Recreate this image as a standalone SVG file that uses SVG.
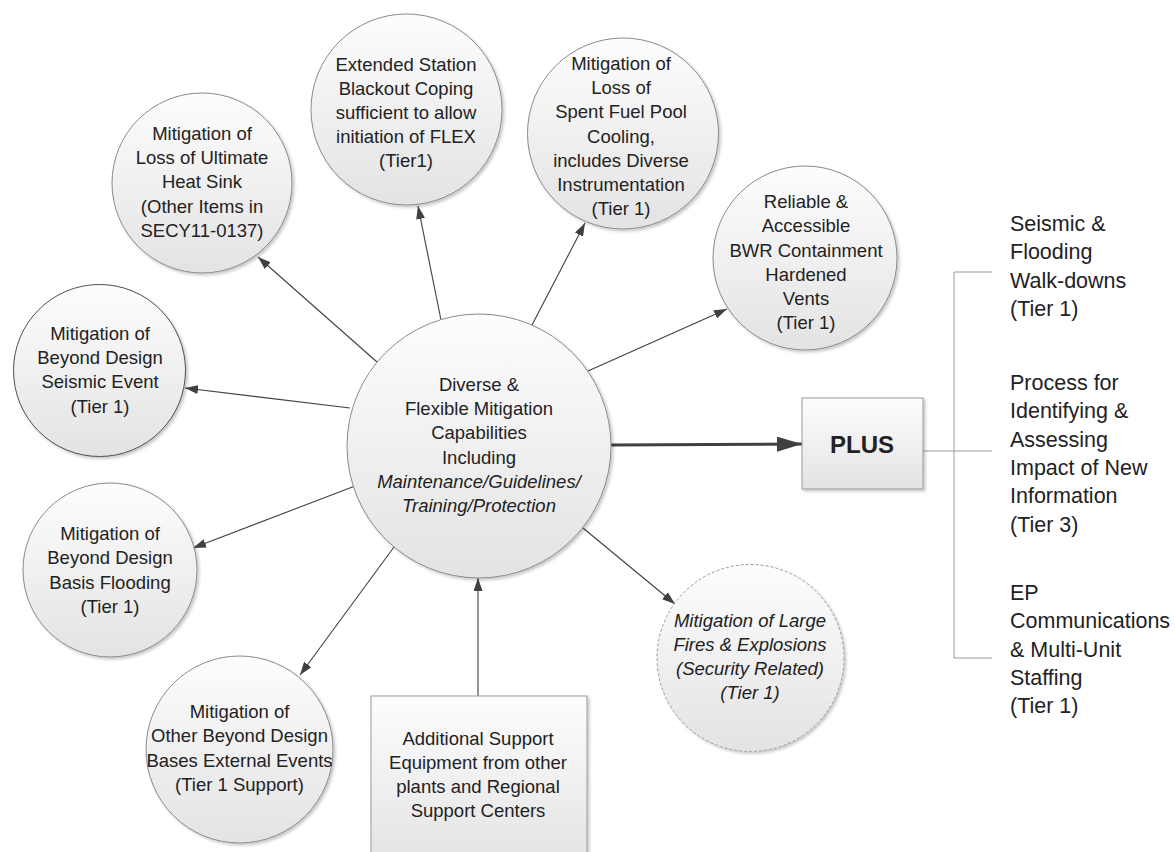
<svg xmlns="http://www.w3.org/2000/svg" width="1175" height="852" viewBox="0 0 1175 852">
<defs>
<linearGradient id="g" x1="0" y1="0" x2="0" y2="1">
<stop offset="0" stop-color="#fdfdfd"/>
<stop offset="1" stop-color="#e3e3e3"/>
</linearGradient>
<filter id="sh" x="-10%" y="-10%" width="125%" height="125%">
<feDropShadow dx="2" dy="2" stdDeviation="1.5" flood-color="#000" flood-opacity="0.22"/>
</filter>
<marker id="ah" markerUnits="userSpaceOnUse" markerWidth="13" markerHeight="9" refX="13" refY="4.5" orient="auto">
<path d="M0,0 L13,4.5 L0,9 z" fill="#404040"/>
</marker>
<marker id="ahb" markerUnits="userSpaceOnUse" markerWidth="25" markerHeight="15" refX="25" refY="7.5" orient="auto">
<path d="M0,0 L25,7.5 L0,15 z" fill="#404040"/>
</marker>
</defs>
<style>
.n{fill:url(#g);stroke:#8a8a8a;stroke-width:1;filter:url(#sh)}
.t{font-family:"Liberation Sans",Arial,sans-serif;font-size:18.5px;fill:#222;text-anchor:middle}
.i{font-style:italic}
.r{font-family:"Liberation Sans",Arial,sans-serif;font-size:21.5px;fill:#222}
.c{stroke:#404040;stroke-width:1.1;fill:none;marker-end:url(#ah)}
.b{stroke:#999;stroke-width:1;fill:none}
</style>
<rect width="1175" height="852" fill="#fff"/>

<g id="connectors">
<line class="c" x1="377" y1="362" x2="258" y2="257"/>
<line class="c" x1="350" y1="408" x2="185" y2="388"/>
<line class="c" x1="355" y1="486" x2="193" y2="548"/>
<line class="c" x1="394" y1="547" x2="300" y2="675"/>
<line class="c" x1="441" y1="320" x2="418" y2="206"/>
<line class="c" x1="532" y1="325" x2="585" y2="223"/>
<line class="c" x1="588" y1="371" x2="727" y2="309"/>
<line class="c" x1="583" y1="528" x2="675" y2="604"/>
<line class="c" x1="478" y1="696" x2="478" y2="578"/>
<line x1="611" y1="445" x2="802" y2="444" stroke="#404040" stroke-width="3" marker-end="url(#ahb)"/>
<path class="b" d="M923,451 H992 M954,272 V658 M954,272 H992 M954,658 H992"/>
</g>

<g id="center">
<circle class="n" cx="479" cy="446" r="132"/>
<text class="t" x="479" y="391">Diverse &amp;</text>
<text class="t" x="479" y="415">Flexible Mitigation</text>
<text class="t" x="479" y="439">Capabilities</text>
<text class="t" x="479" y="464">Including</text>
<text class="t i" x="479" y="488">Maintenance/Guidelines/</text>
<text class="t i" x="479" y="512">Training/Protection</text>
</g>

<g id="heatsink">
<circle class="n" cx="202" cy="183" r="90"/>
<text class="t" x="202" y="140">Mitigation of</text>
<text class="t" x="202" y="164">Loss of Ultimate</text>
<text class="t" x="202" y="188">Heat Sink</text>
<text class="t" x="202" y="213">(Other Items in</text>
<text class="t" x="202" y="237">SECY11-0137)</text>
</g>

<g id="seismic">
<circle class="n" cx="99.5" cy="370.5" r="86" style="stroke:#505050"/>
<text class="t" x="100" y="340">Mitigation of</text>
<text class="t" x="100" y="364">Beyond Design</text>
<text class="t" x="100" y="388">Seismic Event</text>
<text class="t" x="100" y="413">(Tier 1)</text>
</g>

<g id="flooding">
<circle class="n" cx="110" cy="570" r="87"/>
<text class="t" x="110" y="540">Mitigation of</text>
<text class="t" x="110" y="564">Beyond Design</text>
<text class="t" x="110" y="589">Basis Flooding</text>
<text class="t" x="110" y="613">(Tier 1)</text>
</g>

<g id="external">
<circle class="n" cx="239.5" cy="749.5" r="93.5"/>
<text class="t" x="239.5" y="718">Mitigation of</text>
<text class="t" x="239.5" y="742">Other Beyond Design</text>
<text class="t" x="239.5" y="767">Bases External Events</text>
<text class="t" x="239.5" y="791">(Tier 1 Support)</text>
</g>

<g id="blackout">
<circle class="n" cx="406.5" cy="109.5" r="95.5"/>
<text class="t" x="406" y="71">Extended Station</text>
<text class="t" x="406" y="95">Blackout Coping</text>
<text class="t" x="406" y="119">sufficient to allow</text>
<text class="t" x="406" y="143">initiation of FLEX</text>
<text class="t" x="406" y="167">(Tier1)</text>
</g>

<g id="spentfuel">
<circle class="n" cx="623" cy="133.5" r="95.5"/>
<text class="t" x="621" y="70">Mitigation of</text>
<text class="t" x="621" y="94">Loss of</text>
<text class="t" x="621" y="118">Spent Fuel Pool</text>
<text class="t" x="621" y="143">Cooling,</text>
<text class="t" x="621" y="167">includes Diverse</text>
<text class="t" x="621" y="191">Instrumentation</text>
<text class="t" x="621" y="215">(Tier 1)</text>
</g>

<g id="vents">
<circle class="n" cx="805" cy="258" r="92"/>
<text class="t" x="806" y="208">Reliable &amp;</text>
<text class="t" x="806" y="232">Accessible</text>
<text class="t" x="806" y="257">BWR Containment</text>
<text class="t" x="806" y="281">Hardened</text>
<text class="t" x="806" y="305">Vents</text>
<text class="t" x="806" y="329">(Tier 1)</text>
</g>

<g id="fires">
<circle class="n" cx="750.5" cy="658" r="93.5" style="stroke:#999;stroke-dasharray:3 2"/>
<text class="t i" x="750" y="627">Mitigation of Large</text>
<text class="t i" x="750" y="651">Fires &amp; Explosions</text>
<text class="t i" x="750" y="675">(Security Related)</text>
<text class="t i" x="750" y="699">(Tier 1)</text>
</g>

<g id="support">
<rect class="n" x="371" y="696" width="216" height="170" style="stroke:#999"/>
<text class="t" x="478" y="745">Additional Support</text>
<text class="t" x="478" y="769">Equipment from other</text>
<text class="t" x="478" y="793">plants and Regional</text>
<text class="t" x="478" y="817">Support Centers</text>
</g>

<g id="plus">
<rect class="n" x="802" y="398" width="121" height="91" style="stroke:#999"/>
<text x="862" y="453" text-anchor="middle" font-family="Liberation Sans,Arial,sans-serif" font-size="24" font-weight="bold" fill="#222">PLUS</text>
</g>

<g id="walkdowns">
<text class="r" x="1010" y="231">Seismic &amp;</text>
<text class="r" x="1010" y="259">Flooding</text>
<text class="r" x="1010" y="288">Walk-downs</text>
<text class="r" x="1010" y="316">(Tier 1)</text>
</g>

<g id="newinfo">
<text class="r" x="1010" y="390">Process for</text>
<text class="r" x="1010" y="418">Identifying &amp;</text>
<text class="r" x="1010" y="447">Assessing</text>
<text class="r" x="1010" y="475">Impact of New</text>
<text class="r" x="1010" y="503">Information</text>
<text class="r" x="1010" y="532">(Tier 3)</text>
</g>

<g id="ep">
<text class="r" x="1010" y="600">EP</text>
<text class="r" x="1010" y="628">Communications</text>
<text class="r" x="1010" y="657">&amp; Multi-Unit</text>
<text class="r" x="1010" y="685">Staffing</text>
<text class="r" x="1010" y="713">(Tier 1)</text>
</g>
</svg>
